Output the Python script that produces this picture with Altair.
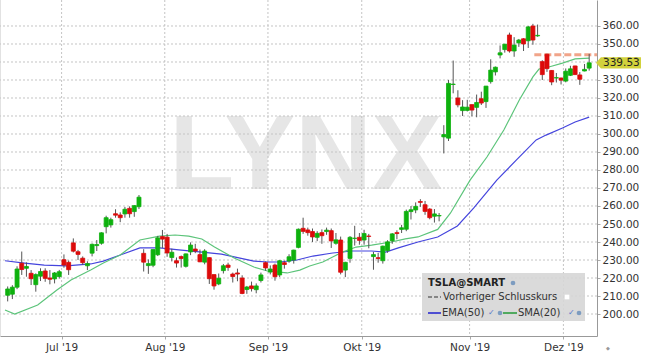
import altair as alt
import pandas as pd

# ---------------- data (TSLA daily candles, 13 Jun 2019 - 9 Dec 2019) ----------------
opens = [210.4, 211.0, 214.9, 228.2, 225.4, 222.6, 216.3, 221.0, 223.9, 220.0, 219.5, 220.8,
         230.2, 228.7, 239.5, 234.6, 231.0, 226.8, 233.8, 238.0, 239.3, 248.5, 249.5, 255.7,
         255.0, 255.6, 258.7, 256.9, 259.6, 233.7, 226.9, 227.1, 232.9, 243.0,
         242.7, 231.4, 229.6, 231.9, 226.5, 234.5, 236.1, 233.0, 228.8, 231.3, 221.9, 216.7,
         224.1, 227.2, 222.2, 222.8, 220.0, 213.6, 215.6, 213.5, 218.6, 228.5,
         223.3, 227.2, 221.7, 228.5, 229.4, 230.0, 237.0, 247.6, 246.7, 245.8, 242.6, 245.2,
         245.8, 246.3, 239.3, 241.1, 224.4, 230.9, 242.0, 242.6,
         241.1, 243.3, 231.9, 231.3, 229.6, 235.2, 240.7, 245.2, 247.0, 247.1, 256.9, 257.8,
         262.5, 260.7, 258.3, 254.3, 254.5, 298.4, 297.7, 327.5, 320.0, 313.0, 313.1,
         316.3, 314.8, 319.6, 318.0, 329.1, 334.5, 343.9, 346.9, 355.0, 346.1, 350.6, 352.9,
         351.8, 360.0, 354.5, 340.2, 344.3, 335.3, 331.1, 331.1,
         329.4, 332.6, 337.8, 332.8, 335.0, 336.6]
highs = [215.3, 216.0, 226.5, 234.7, 228.7, 224.4, 222.6, 225.4, 225.4, 224.4, 223.3, 224.5,
         233.1, 229.7, 242.0, 235.6, 232.0, 229.3, 239.2, 241.1, 245.4, 254.6, 253.5, 258.2,
         256.5, 259.5, 259.8, 260.5, 266.1, 236.0, 230.3, 235.9, 243.4, 246.7,
         244.5, 236.3, 231.4, 232.5, 233.6, 239.8, 239.0, 235.8, 236.0, 231.5, 221.9, 222.5,
         227.8, 228.5, 223.0, 225.2, 221.5, 215.6, 218.0, 217.0, 223.0, 229.2,
         227.0, 228.0, 230.0, 229.7, 233.2, 235.7, 247.5, 253.5, 248.0, 247.5, 246.0, 247.0,
         248.0, 247.5, 245.0, 243.0, 229.0, 243.3, 249.0, 245.0,
         246.8, 244.5, 234.5, 234.0, 238.0, 241.0, 245.0, 246.5, 249.5, 258.0, 260.0, 262.0,
         263.8, 262.8, 258.8, 258.3, 256.1, 304.9, 330.0, 340.8, 324.3, 318.8, 319.0,
         316.5, 321.9, 323.5, 326.7, 341.5, 337.5, 349.2, 350.0, 356.3, 353.8, 352.8, 353.2,
         360.0, 361.2, 360.8, 341.0, 344.6, 335.5, 333.9, 331.3,
         336.4, 337.9, 337.9, 334.4, 338.9, 344.5]
lows = [207.0, 208.3, 213.8, 221.7, 220.7, 216.1, 212.4, 218.3, 217.9, 216.5, 217.0, 219.7,
        225.7, 221.7, 234.2, 230.0, 227.3, 224.4, 232.0, 235.0, 238.5, 244.8, 248.0, 253.5,
        251.0, 253.5, 253.5, 254.0, 258.3, 223.6, 222.3, 226.0, 232.2, 236.7,
        231.8, 229.2, 225.8, 225.8, 225.8, 232.7, 233.8, 228.8, 227.6, 216.7, 213.5, 216.0,
        222.5, 224.0, 217.5, 218.2, 211.0, 211.2, 212.5, 211.5, 217.5, 224.0,
        222.0, 218.5, 220.5, 225.2, 228.5, 228.0, 236.5, 244.5, 243.5, 240.0, 240.5, 239.0,
        244.0, 236.7, 238.5, 222.0, 220.5, 228.5, 238.0, 238.5,
        238.5, 236.5, 224.6, 228.5, 228.0, 234.0, 239.0, 241.5, 245.0, 246.0, 252.5, 256.0,
        259.5, 255.1, 252.6, 250.8, 251.5, 289.2, 296.1, 322.6, 314.8, 310.0, 312.5,
        309.8, 309.3, 316.1, 314.5, 328.0, 332.5, 342.0, 345.2, 345.2, 342.9, 348.4, 346.1,
        347.8, 349.6, 354.0, 330.0, 334.5, 327.1, 328.6, 327.5,
        328.7, 332.2, 332.9, 327.3, 334.8, 335.2]
closes = [213.9, 214.9, 225.0, 224.7, 226.4, 219.6, 221.9, 223.6, 219.8, 219.3, 222.8, 223.5,
          227.2, 224.6, 234.9, 233.1, 228.5, 228.0, 238.7, 238.6, 245.1, 253.5, 252.4, 254.9,
          253.5, 258.2, 255.7, 260.2, 264.9, 228.8, 228.0, 235.8, 242.3, 241.6,
          233.9, 234.3, 228.3, 230.8, 233.4, 238.3, 235.0, 229.0, 235.0, 219.6, 215.6, 219.9,
          226.8, 225.9, 220.8, 222.2, 211.4, 215.0, 214.1, 215.6, 221.7, 225.6,
          225.0, 220.7, 229.6, 227.5, 231.8, 235.5, 247.1, 245.9, 245.2, 242.8, 244.8, 243.5,
          246.6, 240.6, 241.2, 223.2, 228.7, 242.6, 242.1, 240.9,
          244.7, 243.1, 233.0, 230.8, 237.7, 240.1, 244.5, 244.7, 247.9, 257.0, 257.9, 259.8,
          262.0, 257.0, 253.5, 255.6, 254.7, 299.7, 328.1, 327.7, 316.2, 315.0, 314.9,
          313.3, 317.5, 317.2, 326.6, 335.5, 337.1, 345.1, 349.9, 346.1, 349.4, 352.2, 350.0,
          359.5, 352.2, 354.8, 333.0, 336.3, 328.9, 331.3, 329.9,
          334.9, 336.2, 333.0, 330.4, 335.9, 339.53]

# moving averages (candle index, price)
sma_idx = [-0.57, 1.5, 6.4, 10.5, 13.5, 17.7, 20.4, 24.0, 28.2, 32.4, 35.7, 38.6, 41.4, 44.1,
           48.3, 52.5, 55.4, 59.6, 62.3, 64.4, 67.2, 69.3, 71.4, 74.3, 77.6, 81.8, 84.8, 87.5,
           91.7, 94.4, 98.6, 102.2, 105.8, 109.1, 112.0, 113.3, 115.4, 118.3, 121.0, 124.0]
sma_val = [202.2, 200.0, 205.0, 213.3, 218.9, 224.4, 228.3, 232.8, 241.1, 243.3, 243.9, 243.3,
           241.7, 237.2, 231.1, 226.1, 223.9, 222.8, 224.4, 226.7, 228.9, 231.7, 234.4, 237.2,
           238.3, 240.0, 241.7, 242.8, 247.0, 256.0, 274.4, 287.2, 302.2, 318.9, 331.7, 336.1,
           337.2, 339.4, 341.7, 342.2]
ema_idx = [-0.57, 3.6, 7.8, 12.6, 17.7, 20.4, 24.0, 28.2, 32.4, 36.5, 41.4, 45.6, 48.3, 52.5,
           55.4, 58.1, 61.7, 65.1, 69.3, 73.5, 77.6, 80.6, 83.3, 87.5, 91.7, 95.9, 99.4, 104.3,
           108.5, 112.7, 114.8, 118.3, 121.0, 124.0]
ema_val = [229.6, 228.3, 227.2, 226.7, 227.8, 229.4, 232.8, 236.7, 236.7, 235.6, 234.4, 233.3,
           231.7, 229.4, 228.9, 228.9, 230.0, 232.2, 233.9, 235.0, 235.0, 234.4, 236.7, 240.0,
           242.8, 248.9, 258.9, 274.4, 285.6, 296.7, 299.4, 303.3, 306.7, 309.4]

prev_close = [344.0]
prev_close_from = [112.3]
y_ticks = [200, 210, 220, 230, 240, 250, 260, 270, 280, 290, 300, 310, 320, 330, 340, 350, 360]
month_labels = ["Jul '19", "Aug '19", "Sep '19", "Okt '19", "Nov '19", "Dez '19"]

dates = pd.bdate_range("2019-06-13", "2019-12-09", freq="C",
                       holidays=["2019-07-04", "2019-09-02", "2019-11-28"])
n = len(closes)
month_starts = [k for k in range(1, n) if dates[k].month != dates[k - 1].month]
bounds = [k - 0.5 for k in month_starts]

# ---------------- styling ----------------
W, H = 597, 336
GREEN, RED = "#0eb10e", "#dc0b0b"
FONT = "DejaVu Sans"
xs = alt.Scale(domain=[-0.57, 124.6], nice=False, zero=False)
ys = alt.Scale(domain=[187.78, 374.44], nice=False, zero=False)

label_expr = "".join(f'datum.value == {b} ? "{m}" : ' for b, m in zip(bounds, month_labels)) + '""'
x_axis = alt.Axis(values=bounds, labelExpr=label_expr, grid=False, title=None, tickSize=3,
                  tickColor="#aaaaaa", domainColor="#999999", labelFont=FONT, labelFontSize=10.5,
                  labelColor="#333333", labelPadding=3, labelFlush=False)
y_axis = alt.Axis(orient="right", values=y_ticks, format=".2f", grid=False, title=None,
                  tickSize=3, tickColor="#aaaaaa", domainColor="#999999", labelFont=FONT,
                  labelFontSize=10.5, labelColor="#333333", labelPadding=2)

def X(field):
    return alt.X(field, scale=xs, axis=x_axis)

def Y(field):
    return alt.Y(field, scale=ys, axis=y_axis)

df = pd.DataFrame({"i": list(range(n)), "open": opens, "high": highs, "low": lows, "close": closes})
one = lambda **kw: alt.Chart(pd.DataFrame({k: [v] for k, v in kw.items()}))

watermark = one(t="LYNX").mark_text(
    font="Liberation Sans", fontSize=106, fontWeight="bold", color="#e6e6e6",
    align="center", baseline="alphabetic"
).encode(text="t:N", x=alt.value(306), y=alt.value(189))

left_edge = one(k=1).mark_rule(color="#e2e2e2", strokeWidth=1).encode(
    x=alt.value(0.5), y=alt.value(0), y2=alt.value(H))

grid_style = dict(color="#c4c4c4", strokeDash=[2, 2], strokeWidth=1)
hgrid = alt.Chart(pd.DataFrame({"v": y_ticks})).mark_rule(**grid_style).encode(y=Y("v:Q"))
vgrid = alt.Chart(pd.DataFrame({"b": bounds})).mark_rule(**grid_style).encode(x=X("b:Q"))

ema = alt.Chart(pd.DataFrame({"i": ema_idx, "v": ema_val})).mark_line(
    color="#4444dd", strokeWidth=1.2, clip=True).encode(x=X("i:Q"), y=Y("v:Q"))
sma = alt.Chart(pd.DataFrame({"i": sma_idx, "v": sma_val})).mark_line(
    color="#5cc47a", strokeWidth=1.2, clip=True).encode(x=X("i:Q"), y=Y("v:Q"))

prev = alt.Chart(pd.DataFrame({"a": prev_close_from, "v": prev_close})).mark_rule(
    color="#f09a7c", strokeDash=[7, 3], strokeWidth=3, opacity=0.9).encode(
    x=X("a:Q"), x2=alt.value(W), y=Y("v:Q"))

up = "datum.close >= datum.open"
wicks = alt.Chart(df).mark_rule(color="#555555", strokeWidth=1).encode(
    x=X("i:Q"), y=Y("low:Q"), y2="high:Q")
bodies = alt.Chart(df).mark_bar(size=4, strokeWidth=0.8).encode(
    x=X("i:Q"), y=Y("open:Q"), y2="close:Q",
    fill=alt.condition(up, alt.value(GREEN), alt.value(RED)),
    stroke=alt.condition(up, alt.value(GREEN), alt.value(RED)))

last = closes[-1]
tag = one(c=last).mark_point(
    shape="M-1,0L-0.78,-0.25L1,-0.25L1,0.25L-0.78,0.25Z", size=2025, filled=True,
    color="#d2d23c", opacity=1, strokeWidth=0).encode(x=alt.value(618.5), y=Y("c:Q"))
tag_text = one(c=last, t=f"{last:.2f}").mark_text(
    font=FONT, fontSize=10.5, color="#222222", align="left", baseline="middle").encode(
    text="t:N", x=alt.value(603), y=Y("c:Q"))

corner_icon = one(t="◆").mark_text(font=FONT, fontSize=5, color="#999999",
                                   align="center", baseline="middle").encode(
    text="t:N", x=alt.value(608), y=alt.value(348))

# ---------------- legend box ----------------
leg_box = one(k=1).mark_rect(color="#d6d6d6", opacity=0.9).encode(
    x=alt.value(422), x2=alt.value(585), y=alt.value(273), y2=alt.value(321))

def ltext(t, x, y, bold=False, color="#333333", size=10):
    return one(t=t).mark_text(font=FONT, fontSize=size, fontWeight="bold" if bold else "normal",
                              color=color, align="left", baseline="middle").encode(
        text="t:N", x=alt.value(x), y=alt.value(y))

def lseg(x1, x2, y, color, dash=None, w=1.6):
    kw = dict(color=color, strokeWidth=w)
    if dash:
        kw["strokeDash"] = dash
    return one(k=1).mark_rule(**kw).encode(x=alt.value(x1), x2=alt.value(x2), y=alt.value(y))

def ldot(x, y, color="#7d9cc0", shape="circle"):
    return one(k=1).mark_point(shape=shape, size=22, filled=True, color=color,
                               opacity=1).encode(x=alt.value(x), y=alt.value(y))

legend = [
    leg_box,
    ltext("TSLA@SMART", 428, 283, bold=True, color="#222222"),
    ldot(513, 283),
    lseg(428, 441, 297, "#333333", dash=[4, 2], w=1.2),
    ltext("Vorheriger Schlusskurs", 443, 297),
    ldot(567, 297, color="#ffffff", shape="square"),
    lseg(428, 441, 313, "#2b2bd0"),
    ltext("EMA(50)", 442, 313),
    ltext("✓", 488, 313, color="#5577cc", size=8),
    ldot(500, 313),
    lseg(503, 517, 313, "#2e9e40"),
    ltext("SMA(20)", 518, 313),
    ltext("✓", 568, 313, color="#5577cc", size=8),
    ldot(579, 313),
]

chart = alt.layer(watermark, left_edge, hgrid, vgrid, ema, sma, prev, wicks, bodies, *legend,
                  tag, tag_text, corner_icon
).properties(
    width=W, height=H, autosize=alt.AutoSizeParams(type="none"),
    padding={"left": 0, "top": 0, "right": 48, "bottom": 22}, background="#ffffff"
).configure_view(stroke=None)

chart.save("out.html", embed_options={"renderer": "svg", "actions": False})
